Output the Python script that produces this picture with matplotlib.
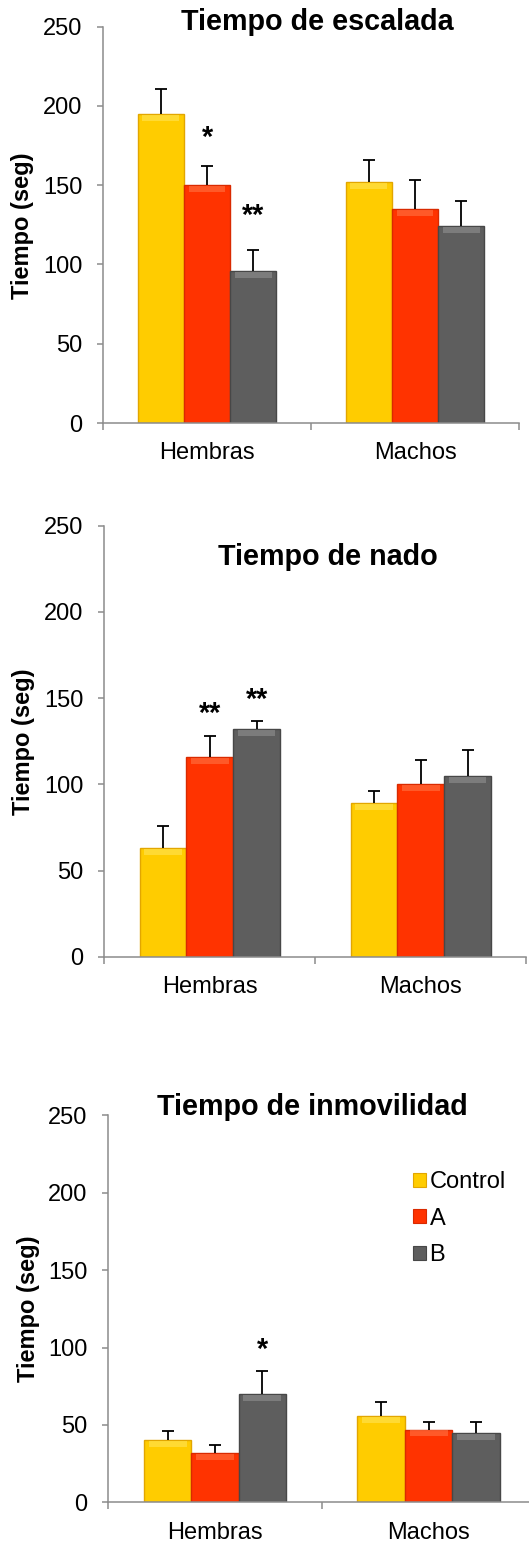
import numpy as np
import matplotlib
matplotlib.use("Agg")
import matplotlib.pyplot as plt
from matplotlib.patches import Patch

plt.rcParams['font.family'] = ['Liberation Sans', 'DejaVu Sans']

# ---------------- data ----------------
categories = ["Hembras", "Machos"]
groups = ["Control", "A", "B"]
titles = ["Tiempo de escalada", "Tiempo de nado", "Tiempo de inmovilidad"]
ylabel = "Tiempo (seg)"
yticks = [0, 50, 100, 150, 200, 250]

# panel 1: escalada
esc_control = [195, 152]
esc_A = [150, 135]
esc_B = [96, 124]
esc_err_control = [16, 14]
esc_err_A = [12, 18]
esc_err_B = [13, 16]

# panel 2: nado
nado_control = [63, 89]
nado_A = [116, 100]
nado_B = [132, 105]
nado_err_control = [13, 7]
nado_err_A = [12, 14]
nado_err_B = [5, 15]

# panel 3: inmovilidad
inm_control = [40, 56]
inm_A = [32, 47]
inm_B = [70, 45]
inm_err_control = [6, 9]
inm_err_A = [5, 5]
inm_err_B = [15, 7]

# significance marks: (category index, group index, text)
esc_marks = [(0, 1, "*"), (0, 2, "**")]
nado_marks = [(0, 1, "**"), (0, 2, "**")]
inm_marks = [(0, 2, "*")]

# ---------------- style ----------------
W, H = 529, 1544
DPI = 100
colors = ["#FFCC00", "#FF3300", "#5E5E5E"]
edge_colors = ["#E2A600", "#D92A00", "#474747"]
high_colors = ["#FFE04A", "#FF6A3A", "#8A8A8A"]
spine_col = "#8C8C8C"
bw = 0.222
FS = 17
TFS = 20.7

fig = plt.figure(figsize=(W / DPI, H / DPI), dpi=DPI)

def px_axes(left, right, top, bottom):
    return [left / W, 1 - bottom / H, (right - left) / W, (bottom - top) / H]

panels = [
    dict(rect=px_axes(103, 519, 26.7, 423),
         vals=[esc_control, esc_A, esc_B],
         errs=[esc_err_control, esc_err_A, esc_err_B],
         marks=esc_marks, mark_off=[20, 25],
         title_xy=(317, 22), ylab_xy=(23, 226)),
    dict(rect=px_axes(104.3, 526.3, 525.8, 956.7),
         vals=[nado_control, nado_A, nado_B],
         errs=[nado_err_control, nado_err_A, nado_err_B],
         marks=nado_marks, mark_off=[16, 15],
         title_xy=(328, 556.7), ylab_xy=(24, 742)),
    dict(rect=px_axes(108.3, 535.3, 1115.3, 1502.3),
         vals=[inm_control, inm_A, inm_B],
         errs=[inm_err_control, inm_err_A, inm_err_B],
         marks=inm_marks, mark_off=[15],
         title_xy=(312.5, 1106.7), ylab_xy=(29, 1309)),
]

x = np.arange(len(categories))
offsets = [-bw, 0, bw]

for i, p in enumerate(panels):
    ax = fig.add_axes(p["rect"])
    ax.set_xlim(-0.5, len(categories) - 0.5)
    ax.set_ylim(0, 250)
    ax_h_px = p["rect"][3] * H
    ax_w_px = p["rect"][2] * W
    strip = 250 * 6 / ax_h_px
    cap = len(categories) * 6 / ax_w_px

    for g in range(len(groups)):
        xs = x + offsets[g]
        vals = np.array(p["vals"][g], dtype=float)
        errs = np.array(p["errs"][g], dtype=float)
        ax.bar(xs, vals, width=bw, color=colors[g], edgecolor=edge_colors[g],
               linewidth=1.0, zorder=2)
        ax.bar(xs, np.full_like(vals, strip), bottom=vals - strip - 0.6, width=bw * 0.8,
               color=high_colors[g], linewidth=0, alpha=0.7, zorder=3)
        ax.vlines(xs, vals, vals + errs, colors="black", linewidth=1.3, zorder=4)
        ax.hlines(vals + errs, xs - cap, xs + cap, colors="black", linewidth=1.3, zorder=4)

    for (c, g, txt), off in zip(p["marks"], p["mark_off"]):
        top = p["vals"][g][c] + p["errs"][g][c]
        ax.annotate(txt, xy=(x[c] + offsets[g], top), xytext=(0, off),
                    textcoords="offset points", ha="center", va="center",
                    fontsize=TFS, fontweight="bold", zorder=5)

    for s in ["top", "right"]:
        ax.spines[s].set_visible(False)
    for s in ["left", "bottom"]:
        ax.spines[s].set_color(spine_col)
        ax.spines[s].set_linewidth(1.1)

    ax.set_yticks(yticks)
    ax.set_yticklabels([str(t) for t in yticks])
    ax.tick_params(axis="y", direction="out", length=4.5, width=1.1, color=spine_col,
                   labelsize=FS, pad=10.5)
    ax.set_xticks(x)
    ax.set_xticklabels(categories)
    ax.set_xticks(np.arange(-0.5, len(categories)), minor=True)
    ax.tick_params(axis="x", which="major", length=0, labelsize=FS, pad=14)
    ax.tick_params(axis="x", which="minor", direction="out", length=5, width=1.1,
                   color=spine_col)
    ax.patch.set_visible(False)

    tx, ty = p["title_xy"]
    fig.text(tx / W, 1 - ty / H, titles[i], ha="center", va="center",
             fontsize=TFS, fontweight="bold")
    lx, ly = p["ylab_xy"]
    fig.text(lx / W, 1 - ly / H, ylabel, ha="center", va="center", rotation=90,
             fontsize=FS, fontweight="bold")

    if i == 2:
        handles = [Patch(facecolor=colors[g], edgecolor=edge_colors[g], linewidth=0.8)
                   for g in range(len(groups))]
        ax.legend(handles, groups, loc="upper left",
                  bbox_to_anchor=(413 / W, 1 - 1171 / H), bbox_transform=fig.transFigure,
                  frameon=False, borderpad=0, borderaxespad=0, fontsize=FS,
                  handlelength=0.55, handleheight=0.55, handletextpad=0.15,
                  labelspacing=0.62)

fig.savefig("out.png", dpi=DPI)
